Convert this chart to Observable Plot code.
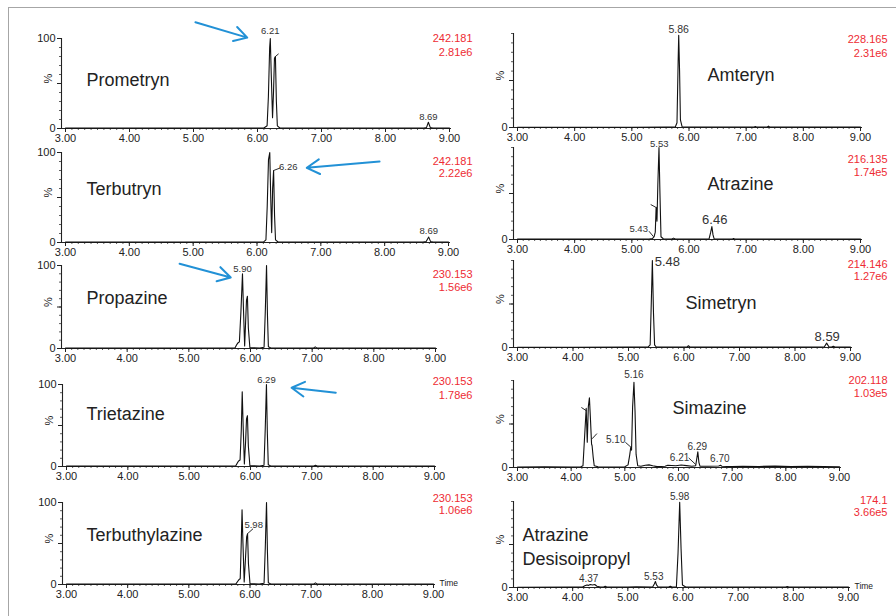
<!DOCTYPE html>
<html><head><meta charset="utf-8">
<script src="https://cdn.jsdelivr.net/npm/d3@7"></script>
<script src="https://cdn.jsdelivr.net/npm/@observablehq/plot@0.6"></script>
<style>
body{margin:0;background:#fff;}
#wrap{position:relative;width:896px;height:616px;overflow:hidden;background:#fff;font-family:"Liberation Sans",Arial,sans-serif;}
#border{position:absolute;left:8px;top:7px;width:900px;height:620px;border-top:1.5px solid #a6a6a6;border-left:1.5px solid #a6a6a6;}
.panel{position:absolute;}
</style></head><body><div id="wrap"><div id="border"></div></div>
<script>
// ---------- DATA ----------
const compoundNames = ["Prometryn","Terbutryn","Propazine","Trietazine","Terbuthylazine","Amteryn","Atrazine","Simetryn","Simazine","Atrazine\nDesisoipropyl"];
const massLabels = ["242.181","242.181","230.153","230.153","230.153","228.165","216.135","214.146","202.118","174.1"];
const intensityLabels = ["2.81e6","2.22e6","1.56e6","1.78e6","1.06e6","2.31e6","1.74e5","1.27e6","1.03e5","3.66e5"];
const xTickValues = [3,4,5,6,7,8,9];

const prometrynTime = [3.00,3.80,4.60,5.40,6.10,6.15,6.17,6.19,6.20,6.215,6.235,6.25,6.265,6.28,6.295,6.31,6.35,7.20,8.00,8.60,8.64,8.67,8.70,8.74,9.00];
const prometrynPct  = [0.4,0.5,0.4,0.5,0.5,3,35,90,100,60,12,40,78,80,30,3,0.6,0.5,0.5,0.5,1,7,1,0.5,0.5];
const terbutrynTime = [3.00,3.80,4.60,5.40,6.10,6.14,6.16,6.18,6.20,6.215,6.23,6.245,6.26,6.275,6.29,6.33,7.20,8.00,8.60,8.65,8.69,8.72,8.76,9.00];
const terbutrynPct  = [0.4,0.5,0.4,0.5,0.5,3,40,92,100,50,11,60,80,30,3,0.6,0.5,0.5,0.5,1,6,1,0.5,0.5];
const propazineTime = [3.00,3.90,4.80,5.60,5.75,5.78,5.80,5.82,5.845,5.87,5.885,5.905,5.92,5.935,5.95,5.965,5.99,6.15,6.22,6.24,6.26,6.275,6.29,6.33,7.02,7.05,7.08,8.00,9.00];
const propazinePct  = [0.5,0.6,0.5,0.6,0.8,5,7,8,45,90,50,3,30,58,63,25,1,0.6,1.5,45,100,40,2,0.6,0.5,2,0.5,0.6,0.5];
const trietazineTime = [3.00,3.90,4.80,5.60,5.76,5.79,5.81,5.83,5.85,5.865,5.88,5.90,5.92,5.935,5.95,5.965,5.99,6.15,6.22,6.24,6.26,6.275,6.29,6.33,7.03,7.06,7.09,8.00,9.00];
const trietazinePct  = [0.5,0.6,0.5,0.6,0.8,5,7,8,45,91,50,3,30,58,62,25,1,0.6,1.5,45,100,40,2,0.6,0.5,1.5,0.5,0.6,0.5];
const terbuthylazineTime = [3.00,3.90,4.80,5.60,5.77,5.80,5.82,5.84,5.855,5.87,5.885,5.905,5.925,5.945,5.96,5.975,6.00,6.15,6.23,6.25,6.27,6.285,6.30,6.34,7.04,7.07,7.10,8.00,9.00];
const terbuthylazinePct  = [0.5,0.6,0.5,0.6,0.8,4,6,7,45,91,50,3,30,58,62,25,1,0.6,1.5,45,100,40,2,0.6,0.5,2,0.5,0.6,0.5];
const amterynTime = [3.00,4.00,5.00,5.60,5.76,5.79,5.81,5.82,5.835,5.85,5.88,6.10,6.80,7.14,7.16,7.18,7.37,7.39,7.41,8.20,9.00];
const amterynPct  = [0.3,0.3,0.3,0.4,0.5,5,70,98,60,8,0.6,0.5,0.5,0.5,1,0.5,0.5,1.5,0.5,0.4,0.4];
const atrazineTime = [3.00,4.00,5.00,5.30,5.36,5.39,5.41,5.425,5.44,5.455,5.475,5.49,5.51,5.55,5.70,5.73,5.76,6.00,6.35,6.38,6.40,6.42,6.44,6.76,6.78,6.80,7.50,8.50,9.00];
const atrazinePct  = [0.4,0.4,0.5,0.5,1,3,8,35,20,60,100,55,3,0.8,0.5,1.5,0.5,0.5,0.5,8,14,5,0.6,0.5,1,0.5,0.5,0.4,0.4];
const simetrynTime = [3.00,4.00,5.00,5.35,5.39,5.41,5.43,5.45,5.47,5.50,5.80,6.05,6.08,6.11,6.50,7.50,8.40,8.53,8.57,8.61,8.66,8.69,8.72,9.00];
const simetrynPct  = [0.3,0.3,0.4,0.5,3,50,100,40,3,0.6,0.5,0.5,2,0.5,0.4,0.4,0.5,0.8,5,0.8,0.6,1.5,0.6,0.4];
const simazineTime = [3.00,3.50,4.00,4.18,4.22,4.25,4.28,4.30,4.32,4.34,4.36,4.38,4.39,4.41,4.43,4.50,4.80,5.00,5.06,5.09,5.11,5.125,5.145,5.17,5.19,5.21,5.24,5.30,5.38,5.45,5.52,5.60,5.75,5.80,5.95,6.05,6.15,6.25,6.32,6.345,6.36,6.38,6.40,6.55,6.75,6.78,6.81,7.00,7.20,7.50,7.80,8.10,8.40,8.70,9.00];
const simazinePct  = [0.5,0.8,0.6,0.8,2,35,68,29,70,80,55,27,25,12,2,0.8,0.6,0.8,3,14,23,20,70,98,65,15,2,1.5,2.5,3,2,1,1.5,2.5,2,2.8,2.2,1.5,2,12,18,6,1.5,1.5,1.8,2.6,1.5,1,1.5,1.2,1.6,1.2,1.5,1,0.8];
const desisoTime = [3.00,4.00,4.18,4.22,4.26,4.29,4.32,4.36,4.40,4.44,4.50,4.56,4.59,4.62,5.00,5.15,5.45,5.48,5.50,5.52,5.55,5.74,5.77,5.80,5.88,5.91,5.94,5.965,5.99,6.05,7.00,7.86,7.89,7.92,9.00];
const desisoPct  = [0.3,0.4,0.5,2,3,2.5,3.5,3,3.5,1.5,0.5,0.6,1.3,0.6,0.5,0.8,0.5,4,7,3,0.6,0.5,1.5,0.5,0.6,40,99,45,3,0.6,0.5,0.5,1.2,0.5,0.4];

// peak labels: time, percent, text (text centre)
const prometrynPeakLabels = [{time:6.20,pct:108,text:"6.21"},{time:8.67,pct:13,text:"8.69"}];
const terbutrynPeakLabels = [{time:6.49,pct:84,text:"6.26"},{time:8.69,pct:13,text:"8.69"}];
const propazinePeakLabels = [{time:5.87,pct:96,text:"5.90"}];
const trietazinePeakLabels = [{time:6.26,pct:106,text:"6.29"}];
const terbuthylazinePeakLabels = [{time:6.06,pct:73,text:"5.98"}];
const amterynPeakLabels = [{time:5.82,pct:104,text:"5.86"}];
const atrazinePeakLabels = [{time:5.48,pct:104,text:"5.53"},{time:5.12,pct:11.6,text:"5.43"},{time:6.45,pct:21,text:"6.46"}];
const simetrynPeakLabels = [{time:5.70,pct:98,text:"5.48"},{time:8.58,pct:12.6,text:"8.59"}];
const simazinePeakLabels = [{time:5.17,pct:106,text:"5.16"},{time:4.83,pct:32,text:"5.10"},{time:6.02,pct:11,text:"6.21"},{time:6.35,pct:24,text:"6.29"},{time:6.77,pct:10,text:"6.70"}];
const desisoPeakLabels = [{time:5.94,pct:106,text:"5.98"},{time:5.47,pct:13,text:"5.53"},{time:4.29,pct:10,text:"4.37"}];

// integration marker / leader segments
const prometrynLeaders = [{t1:6.28,p1:80,t2:6.33,p2:83}];
const terbutrynLeaders = [{t1:6.26,p1:80,t2:6.37,p2:83}];
const terbuthylazineLeaders = [{t1:5.96,p1:62,t2:6.05,p2:68}];
const atrazineLeaders = [{t1:5.33,p1:38,t2:5.42,p2:35},{t1:5.30,p1:9,t2:5.38,p2:3}];
const simazineLeaders = [{t1:4.19,p1:69,t2:4.29,p2:65},{t1:4.39,p1:33,t2:4.48,p2:39},{t1:5.01,p1:29,t2:5.12,p2:23},{t1:6.19,p1:11,t2:6.32,p2:3.5}];

// blue arrows
const prometrynArrows = [{t1:5.03,p1:118,t2:5.84,p2:101}];
const terbutrynArrows = [{t1:7.92,p1:90,t2:6.78,p2:83}];
const propazineArrows = [{t1:4.85,p1:102,t2:5.68,p2:85.5}];
const trietazineArrows = [{t1:7.39,p1:90,t2:6.67,p2:96}];

const traceTimes = [prometrynTime,terbutrynTime,propazineTime,trietazineTime,terbuthylazineTime,amterynTime,atrazineTime,simetrynTime,simazineTime,desisoTime];
const tracePcts = [prometrynPct,terbutrynPct,propazinePct,trietazinePct,terbuthylazinePct,amterynPct,atrazinePct,simetrynPct,simazinePct,desisoPct];
const peakLabels = [prometrynPeakLabels,terbutrynPeakLabels,propazinePeakLabels,trietazinePeakLabels,terbuthylazinePeakLabels,amterynPeakLabels,atrazinePeakLabels,simetrynPeakLabels,simazinePeakLabels,desisoPeakLabels];
const leaders = [prometrynLeaders,terbutrynLeaders,[],[],terbuthylazineLeaders,[],atrazineLeaders,[],simazineLeaders,[]];
const arrows = [prometrynArrows,terbutrynArrows,propazineArrows,trietazineArrows,[],[],[],[],[],[]];

// ---------- LAYOUT (positions / styles) ----------
const layout = [
 {px3:65, px9:449, top:38, bottom:128, yLab:[0,100], nameDx:25, nameDy:40, redDx:21, redDy:[0,14]},
 {px3:65, px9:448, top:152, bottom:242, yLab:[0,100], nameDx:25, nameDy:35, redDx:22, redDy:[9,21]},
 {px3:65, px9:435, top:265, bottom:348, yLab:[0,100], nameDx:25, nameDy:31, redDx:35, redDy:[9,22]},
 {px3:66, px9:434, top:384, bottom:466, yLab:[0,100], nameDx:24, nameDy:28, redDx:36, redDy:[-3,11]},
 {px3:66, px9:433, top:502, bottom:584, yLab:[0,100], nameDx:24, nameDy:31, redDx:37, redDy:[-4,8], time:true},
 {px3:517, px9:860, top:33, bottom:127, yLab:[0], nameDx:194, nameDy:40, redDx:25, redDy:[6,20], lab:10.5},
 {px3:517, px9:860, top:147, bottom:239, yLab:[0], nameDx:194, nameDy:35, redDx:25, redDy:[12,25], big:["6.46"]},
 {px3:517, px9:850, top:260, bottom:347, yLab:[0], nameDx:172, nameDy:41, redDx:35, redDy:[4,16], big:["5.48","8.59"]},
 {px3:517, px9:839, top:380, bottom:467, yLab:[0], nameDx:159, nameDy:26, redDx:46, redDy:[0,13], lab:10},
 {px3:517, px9:848, top:501, bottom:587, yLab:[0], nameDx:9, nameDy:44, redDx:37, redDy:[-1,11], lab:10, time:true},
];

const RED = "#ee2b33", INK = "#222";
const wrap = document.getElementById("wrap");
const mL = 50, mR = 50, mT = 30, mB = 30;
const minorX = d3.range(30, 91, 1).map(d => d / 10);
const minorY = d3.range(0, 101, 10);

layout.forEach((L, i) => {
  const k = (L.px9 - L.px3) / 6;
  const xl = L.px3 - 4, xr = L.px9 + 2;
  const dom = [3 - 4 / k, 9 + 2 / k];
  const width = xr - xl + mL + mR;
  const height = L.bottom - L.top + mT + mB;
  const rows = traceTimes[i].map((t, j) => ({t, v: tracePcts[i][j]}));
  const labSize = L.lab || 9.5;
  const big = L.big || [];
  const marks = [
    Plot.axisX({ticks: minorX, tickSize: 2, tickFormat: () => "", label: null, color: "#333", strokeWidth: 0.8}),
    Plot.axisX({ticks: xTickValues, tickSize: 4, tickPadding: 2, tickFormat: d3.format(".2f"), label: null, fontSize: 11, color: INK}),
    Plot.axisY({ticks: minorY, tickSize: 2, tickFormat: () => "", label: null, color: "#333", strokeWidth: 0.8}),
    Plot.axisY({ticks: [50], tickSize: 4, tickFormat: () => "", label: null, color: INK}),
    Plot.axisY({ticks: L.yLab, tickSize: 4, tickPadding: 2, tickFormat: d => String(d), label: null, fontSize: 11, color: INK}),
    Plot.ruleY([0], {stroke: INK, strokeWidth: 1.1}),
    Plot.ruleX([dom[0]], {stroke: INK, strokeWidth: 1.1}),
    Plot.text(["%"], {text: d => d, frameAnchor: "left", rotate: -90, dx: -13, fontSize: 11, fill: INK}),
    Plot.line(rows, {x: "t", y: "v", stroke: "#111", strokeWidth: 1.1}),
    Plot.link(leaders[i], {x1: "t1", y1: "p1", x2: "t2", y2: "p2", stroke: "#111", strokeWidth: 0.9}),
    Plot.text(peakLabels[i], {x: "time", y: "pct", text: "text", fill: "#333",
      fontSize: d => big.includes(d.text) ? 13 : labSize}),
    Plot.arrow(arrows[i], {x1: "t1", y1: "p1", x2: "t2", y2: "p2", stroke: "#2291d6", strokeWidth: 2, headLength: 11}),
    Plot.text([compoundNames[i]], {text: d => d, frameAnchor: "top-left", textAnchor: "start", lineAnchor: "middle",
      dx: L.nameDx, dy: L.nameDy, fontSize: 18, fill: INK, lineHeight: 1.33}),
    Plot.text([massLabels[i]], {text: d => d, frameAnchor: "top-right", textAnchor: "end", lineAnchor: "middle",
      dx: L.redDx, dy: L.redDy[0], fontSize: 11, fill: RED}),
    Plot.text([intensityLabels[i]], {text: d => d, frameAnchor: "top-right", textAnchor: "end", lineAnchor: "middle",
      dx: L.redDx, dy: L.redDy[1], fontSize: 11, fill: RED})
  ];
  if (L.time) marks.push(Plot.text(["Time"], {text: d => d, frameAnchor: "bottom-right", textAnchor: "start",
      lineAnchor: "middle", dx: 4, dy: -1, fontSize: 8.5, fill: INK}));
  const svg = Plot.plot({
    width, height,
    marginLeft: mL, marginRight: mR, marginTop: mT, marginBottom: mB,
    x: {domain: dom, label: null},
    y: {domain: [0, 100], label: null},
    style: {background: "transparent", overflow: "visible", fontFamily: "'Liberation Sans', Arial, sans-serif", color: INK},
    marks
  });
  const div = document.createElement("div");
  div.className = "panel";
  div.style.left = (xl - mL) + "px";
  div.style.top = (L.top - mT) + "px";
  div.style.width = width + "px";
  div.style.height = height + "px";
  div.appendChild(svg);
  wrap.appendChild(div);
});
</script>
</body></html>
